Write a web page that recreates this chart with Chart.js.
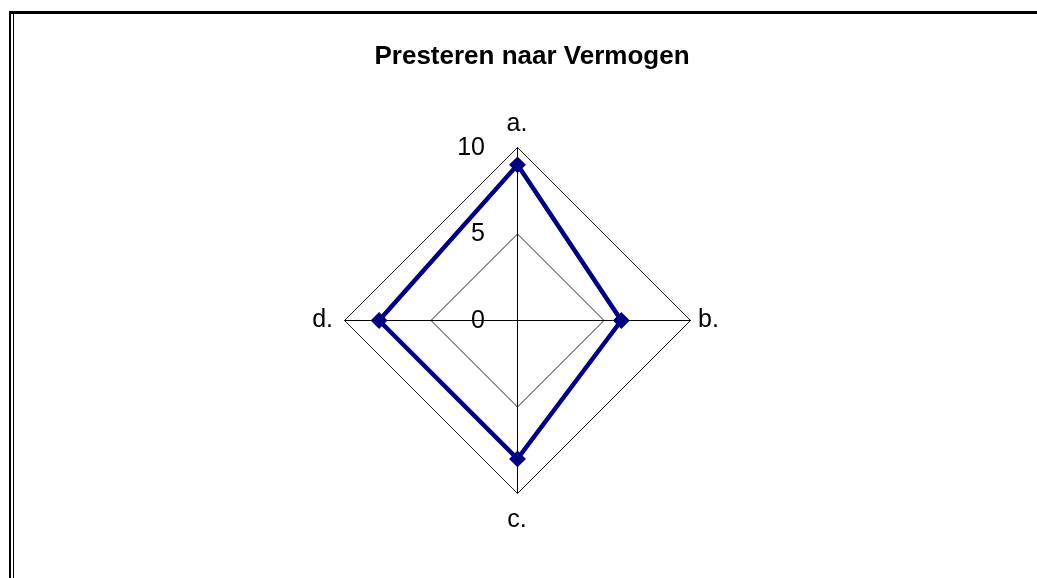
<!DOCTYPE html>
<html>
<head>
<meta charset="utf-8">
<script src="https://cdn.jsdelivr.net/npm/chart.js@4/dist/chart.umd.min.js"></script>
<style>
  body { margin: 0; background: #fff; }
  #wrap { position: relative; width: 1037px; height: 578px; overflow: hidden; }
  #topLine { position: absolute; left: 9px; top: 11px; right: 0; height: 3px; background: #000; }
  #leftLine1 { position: absolute; left: 9px; top: 11px; bottom: 0; width: 2px; background: #000; }
  #leftLine2 { position: absolute; left: 13px; top: 14px; bottom: 0; width: 1px; background: #000; }
  canvas { position: absolute; left: 0; top: 0; }
</style>
</head>
<body>
<div id="wrap">
  <canvas id="radar" width="1037" height="578"></canvas>
  <div id="topLine"></div>
  <div id="leftLine1"></div>
  <div id="leftLine2"></div>
</div>
<script>
var chartTitle = "Presteren naar Vermogen";
var categories = ["a.", "b.", "c.", "d."];
var scores = [9, 6, 8, 8];
var tickValues = [0, 5, 10];

// draws title, category labels and tick labels the way the old spreadsheet did
var labelPlugin = {
  id: 'labels',
  beforeDraw: function(chart) {
    // half pixel shift so the 1px axis lines come out crisp
    chart.ctx.save();
    chart.ctx.translate(0.5, 0.5);
  },
  afterDraw: function(chart) {
    var ctx = chart.ctx;
    ctx.restore();
    var r = chart.scales.r;
    ctx.save();
    ctx.fillStyle = '#000';

    ctx.font = 'bold 26px "Liberation Sans", Arial, sans-serif';
    ctx.textAlign = 'center';
    ctx.textBaseline = 'alphabetic';
    ctx.fillText(chartTitle, 532, 64);

    ctx.font = '25px "Liberation Sans", Arial, sans-serif';
    ctx.textBaseline = 'middle';
    for (var i = 0; i < categories.length; i++) {
      var p;
      if (i == 0) {
        p = r.getPointPosition(i, r.drawingArea + 23);
        ctx.textAlign = 'center';
      } else if (i == 1) {
        p = r.getPointPosition(i, r.drawingArea + 8);
        ctx.textAlign = 'left';
      } else if (i == 2) {
        p = r.getPointPosition(i, r.drawingArea + 27);
        ctx.textAlign = 'center';
      } else {
        p = r.getPointPosition(i, r.drawingArea + 11);
        ctx.textAlign = 'right';
      }
      ctx.fillText(categories[i], p.x, p.y);
    }

    ctx.textAlign = 'right';
    tickValues.forEach(function(v) {
      var p = r.getPointPositionForValue(0, v);
      ctx.fillText(String(v), r.xCenter - 32, p.y + 1);
    });
    ctx.restore();
  }
};

window.onload = function() {
  var ctx = document.getElementById('radar').getContext('2d');
  var chart = new Chart(ctx, {
    type: 'radar',
    data: {
      labels: categories,
      datasets: [{
        label: chartTitle,
        data: scores,
        borderColor: '#000080',
        backgroundColor: '#000080',
        borderWidth: 4.5,
        fill: false,
        pointStyle: 'rectRot',
        pointRadius: 7,
        pointBorderWidth: 2,
        pointBackgroundColor: '#000080',
        pointBorderColor: '#000080'
      }]
    },
    options: {
      responsive: false,
      animation: false,
      layout: {
        padding: { left: 344, right: 347, top: 147, bottom: 85 }
      },
      plugins: {
        legend: { display: false },
        tooltip: { enabled: false }
      },
      scales: {
        r: {
          min: 0,
          max: 10,
          ticks: { display: false, stepSize: 5 },
          pointLabels: { display: false },
          grid: { color: '#222', lineWidth: 1 },
          angleLines: { color: '#000', lineWidth: 1 }
        }
      }
    },
    plugins: [labelPlugin]
  });
}
</script>
</body>
</html>
